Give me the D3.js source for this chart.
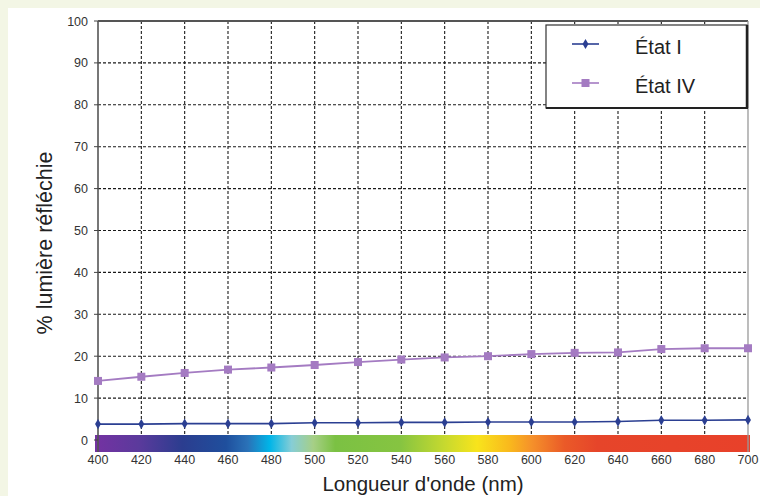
<!DOCTYPE html>
<html lang="fr">
<head>
  <meta charset="UTF-8">
  <script src="https://d3js.org/d3.v7.min.js"></script>
  <style>
    body { margin: 0; background: #f3f6e5; }
    svg { display: block; font-family: Arial, 'Liberation Sans', sans-serif; }
    .grid line { stroke: #1a1a1a; stroke-width: 1.1; stroke-dasharray: 3, 2; }
    .tick-label { font-size: 12.5px; fill: #333; }
  </style>
</head>
<body>
  <svg id="chart" width="760" height="496"></svg>
  <script>
    // wavelength (nm) and reflected light (%)
    const wavelengths = [400, 420, 440, 460, 480, 500, 520, 540, 560, 580, 600, 620, 640, 660, 680, 700];
    const etat1 = [3.8, 3.8, 3.9, 3.9, 3.9, 4.1, 4.1, 4.2, 4.2, 4.3, 4.3, 4.3, 4.4, 4.7, 4.7, 4.8];
    const etat4 = [14.1, 15.1, 16.0, 16.8, 17.3, 17.9, 18.6, 19.2, 19.7, 20.0, 20.5, 20.8, 20.9, 21.7, 21.9, 21.9];
    const yTicks = [0, 10, 20, 30, 40, 50, 60, 70, 80, 90, 100];
    const xTicks = [400, 420, 440, 460, 480, 500, 520, 540, 560, 580, 600, 620, 640, 660, 680, 700];
    const seriesNames = ['État I', 'État IV'];
    // visible spectrum under the axis
    const spectrumNm = [400, 420, 440, 460, 470, 480, 490, 500, 510, 540, 560, 575, 590, 600, 615, 630, 700];
    const spectrumCol = ['#7432a2', '#5b3a9c', '#2b3d8f', '#1f4f9d', '#2a72b8', '#00b5e8', '#86cdd6', '#a6cf86',
      '#7bc143', '#86c441', '#c6d92f', '#f8e41c', '#f9b81d', '#f5912a', '#ea5a28', '#e6452a', '#e8412a'];

    const svg = d3.select('#chart');
    svg.append('rect').attr('x', 8).attr('y', 8).attr('width', 752).attr('height', 488).attr('fill', '#fff');

    const x = d3.scaleLinear().domain([400, 700]).range([98, 748]);
    const y = d3.scaleLinear().domain([0, 100]).range([440, 21]);

    // spectrum bar
    const grad = svg.append('defs').append('linearGradient').attr('id', 'spec')
      .attr('x1', '0%').attr('x2', '100%').attr('y1', '0%').attr('y2', '0%');
    spectrumNm.forEach((d, i) => {
      grad.append('stop').attr('offset', ((d - 400) / 300 * 100) + '%').attr('stop-color', spectrumCol[i]);
    });
    svg.append('rect').attr('x', x(400) - 3).attr('y', 435).attr('width', x(700) - x(400) + 5).attr('height', 17)
      .attr('fill', 'url(#spec)');

    // grid
    const grid = svg.append('g').attr('class', 'grid');
    grid.selectAll('line.h').data(yTicks.filter(d => d > 0 && d < 100)).join('line').attr('class', 'h')
      .attr('x1', x(400)).attr('x2', x(700)).attr('y1', d => y(d)).attr('y2', d => y(d));
    grid.selectAll('line.v').data(xTicks.filter(d => d > 400 && d < 700)).join('line').attr('class', 'v')
      .attr('x1', d => x(d)).attr('x2', d => x(d)).attr('y1', y(100)).attr('y2', 435);

    // frame
    svg.append('line').attr('x1', x(400)).attr('x2', x(700)).attr('y1', y(100)).attr('y2', y(100))
      .attr('stroke', '#555').attr('stroke-width', 2);
    svg.append('line').attr('x1', x(700)).attr('x2', x(700)).attr('y1', y(100)).attr('y2', 452)
      .attr('stroke', '#999').attr('stroke-width', 1.3);
    svg.append('line').attr('x1', x(400)).attr('x2', x(400)).attr('y1', y(100)).attr('y2', 452)
      .attr('stroke', '#555').attr('stroke-width', 1.6);

    // y ticks
    svg.selectAll('line.yt').data(yTicks).join('line').attr('class', 'yt')
      .attr('x1', x(400) - 4).attr('x2', x(400)).attr('y1', d => y(d)).attr('y2', d => y(d))
      .attr('stroke', '#444');
    svg.selectAll('text.yl').data(yTicks).join('text').attr('class', 'yl tick-label')
      .attr('x', 88).attr('y', d => y(d) + 4.5).attr('text-anchor', 'end').text(d => d);
    svg.selectAll('text.xl').data(xTicks).join('text').attr('class', 'xl tick-label')
      .attr('x', d => x(d)).attr('y', 464).attr('text-anchor', 'middle').text(d => d);

    // axis titles
    svg.append('text').attr('x', 423).attr('y', 491).attr('text-anchor', 'middle')
      .attr('font-size', 20.5).attr('fill', '#222').text("Longueur d'onde (nm)");
    svg.append('text').attr('transform', 'translate(52,243) rotate(-90)').attr('text-anchor', 'middle')
      .attr('font-size', 21.5).attr('fill', '#222').text('% lumière réfléchie');

    // series
    const line = d3.line().x((d, i) => x(wavelengths[i])).y(d => y(d));
    const blue = '#2b3f92', purple = '#a47bc2';
    svg.append('path').datum(etat1).attr('d', line).attr('fill', 'none').attr('stroke', blue).attr('stroke-width', 1.6);
    svg.append('path').datum(etat4).attr('d', line).attr('fill', 'none').attr('stroke', purple).attr('stroke-width', 1.8);
    const diamond = d3.symbol().type(d3.symbolDiamond).size(30);
    svg.selectAll('path.m1').data(etat1).join('path').attr('class', 'm1')
      .attr('transform', (d, i) => 'translate(' + x(wavelengths[i]) + ',' + y(d) + ')')
      .attr('d', diamond).attr('fill', blue);
    svg.selectAll('rect.m4').data(etat4).join('rect').attr('class', 'm4')
      .attr('x', (d, i) => x(wavelengths[i]) - 4).attr('y', d => y(d) - 4)
      .attr('width', 8).attr('height', 8).attr('fill', purple);

    // legend
    const legend = svg.append('g');
    legend.append('rect').attr('x', 546).attr('y', 25).attr('width', 201).attr('height', 83)
      .attr('fill', '#fff').attr('stroke', '#333').attr('stroke-width', 1.2);
    legend.append('line').attr('x1', 747).attr('x2', 747).attr('y1', 25).attr('y2', 108)
      .attr('stroke', '#222').attr('stroke-width', 2.5);
    legend.append('line').attr('x1', 546).attr('x2', 748).attr('y1', 108).attr('y2', 108)
      .attr('stroke', '#222').attr('stroke-width', 2);
    const colors = [blue, purple];
    seriesNames.forEach((d, i) => {
      const ly = 44 + i * 39;
      legend.append('line').attr('x1', 572).attr('x2', 599).attr('y1', ly).attr('y2', ly)
        .attr('stroke', colors[i]).attr('stroke-width', 1.6);
      if (i === 0) {
        legend.append('path').attr('transform', 'translate(585.5,' + ly + ')').attr('d', diamond).attr('fill', blue);
      } else {
        legend.append('rect').attr('x', 581.5).attr('y', ly - 4).attr('width', 8).attr('height', 8).attr('fill', purple);
      }
      legend.append('text').attr('x', 635).attr('y', ly + 10).attr('font-size', 20).attr('fill', '#222').text(d);
    });
  </script>
</body>
</html>
